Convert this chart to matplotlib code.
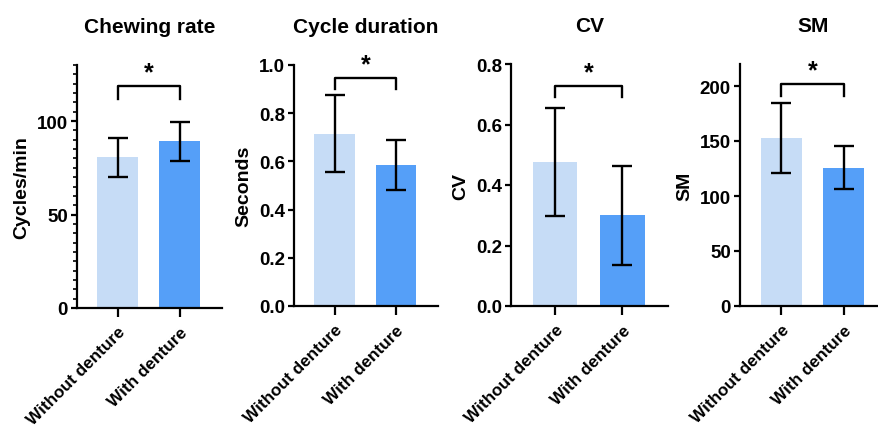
import numpy as np
import matplotlib
matplotlib.use("Agg")
import matplotlib.pyplot as plt
from matplotlib.ticker import MultipleLocator

plt.rcParams['font.family'] = ['Liberation Sans', 'DejaVu Sans']
plt.rcParams['font.weight'] = 'bold'

groups = ["Without denture", "With denture"]
titles = ["Chewing rate", "Cycle duration", "CV", "SM"]
ylabels = ["Cycles/min", "Seconds", "CV", "SM"]

# mean and SD
chewing_mean = [80.6, 89.1]
chewing_sd = [10.3, 10.3]
cycle_mean = [0.715, 0.586]
cycle_sd = [0.160, 0.103]
cv_mean = [0.476, 0.300]
cv_sd = [0.178, 0.163]
sm_mean = [152.7, 125.9]
sm_sd = [32.0, 19.5]

means = [chewing_mean, cycle_mean, cv_mean, sm_mean]
sds = [chewing_sd, cycle_sd, cv_sd, sm_sd]
ymax = [130, 1.0, 0.8, 220]
ymajor = [50, 0.2, 0.2, 50]
yminor = [5, None, None, None]
bracket_top = [118.8, 0.946, 0.727, 201.5]
bracket_leg = [112.0, 0.900, 0.690, 190.8]
tick_fmt = ["{:.0f}", "{:.1f}", "{:.1f}", "{:.0f}"]

colors = ["#C6DCF6", "#559FF8"]

W, H = 879, 435
fig = plt.figure(figsize=(W / 100, H / 100), dpi=100)

# axes boxes in pixels: left, right, top, bottom
boxes = [(77, 222, 66, 309), (294, 438, 66, 307), (511, 668, 65, 307), (740, 886, 65, 307)]

for i in range(4):
    l, r, t, b = boxes[i]
    ax = fig.add_axes([l / W, 1 - b / H, (r - l) / W, (b - t) / H])
    x = np.arange(2)
    ax.bar(x, means[i], width=0.66, color=colors)
    ax.errorbar(x, means[i], yerr=sds[i], fmt='none', ecolor='black',
                elinewidth=1.7, capsize=7.5, capthick=1.7)
    ax.set_xlim(-0.66, 1.68)
    ax.set_ylim(0, ymax[i])
    ax.yaxis.set_major_locator(MultipleLocator(ymajor[i]))
    if yminor[i]:
        ax.yaxis.set_minor_locator(MultipleLocator(yminor[i]))
    ax.yaxis.set_major_formatter(plt.FuncFormatter(lambda v, p, f=tick_fmt[i]: f.format(v)))
    for s in ['top', 'right']:
        ax.spines[s].set_visible(False)
    for s in ['left', 'bottom']:
        ax.spines[s].set_linewidth(1.6)
    ax.tick_params(axis='y', which='major', length=4.5, width=1.6, labelsize=13.5, pad=2)
    ax.tick_params(axis='y', which='minor', length=3, width=1.2)
    ax.tick_params(axis='x', length=6.5, width=1.6, labelsize=12.3, pad=5)
    ax.set_xticks(x)
    ax.set_xticklabels(groups, rotation=45, ha='right', rotation_mode='anchor')
    for lab in ax.get_yticklabels() + ax.get_xticklabels():
        lab.set_fontweight('bold')
    ax.set_ylabel(ylabels[i], fontsize=14, fontweight='bold', labelpad=5)
    ax.set_title(titles[i], fontsize=15, fontweight='bold', pad=24)

    # significance bracket
    ax.plot([0, 0, 1, 1], [bracket_leg[i], bracket_top[i], bracket_top[i], bracket_leg[i]],
            color='black', lw=1.7, clip_on=False)
    ax.annotate("*", xy=(0.5, bracket_top[i]), xytext=(0, 1.5), textcoords='offset points',
                ha='center', va='bottom', fontsize=18, fontweight='bold', annotation_clip=False)

fig.savefig("out.png", dpi=100)
